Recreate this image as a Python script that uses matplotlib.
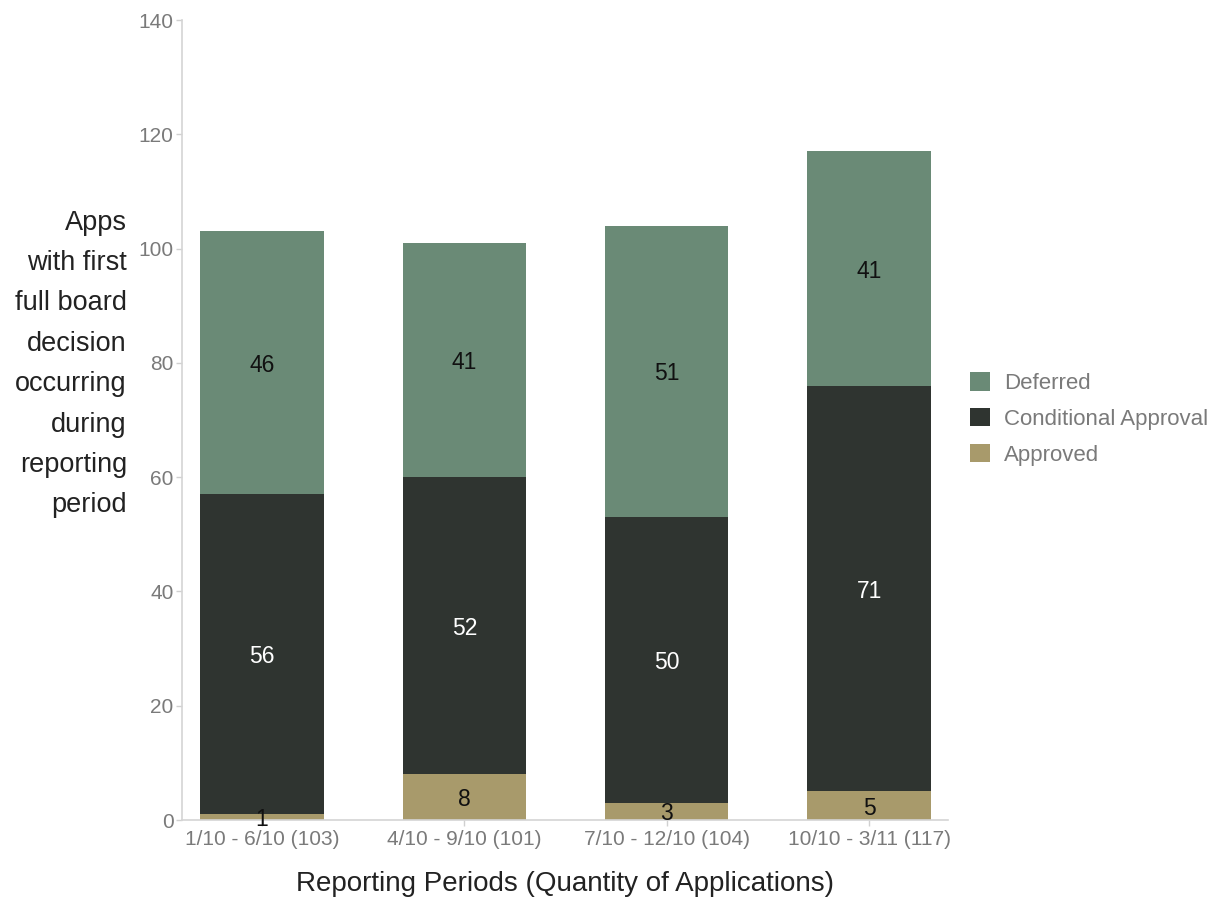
import matplotlib
matplotlib.use("Agg")
import matplotlib.pyplot as plt
import numpy as np

plt.rcParams['font.family'] = ['Liberation Sans', 'DejaVu Sans']

periods = ["1/10 - 6/10 (103)", "4/10 - 9/10 (101)", "7/10 - 12/10 (104)", "10/10 - 3/11 (117)"]
approved = [1, 8, 3, 5]
conditional = [56, 52, 50, 71]
deferred = [46, 41, 51, 41]

c_def = "#6a8a76"
c_cond = "#2f3430"
c_app = "#a89a6b"

fig = plt.figure(figsize=(12.18, 8.99), dpi=100)
ax = fig.add_axes([182/1218, 1-820/899, (948-182)/1218, 800/899])

x = np.arange(len(periods))
w = 0.61
a = np.array(approved); c = np.array(conditional); d = np.array(deferred)
b1 = ax.bar(x, a, w, color=c_app, label="Approved")
b2 = ax.bar(x, c, w, bottom=a, color=c_cond, label="Conditional Approval")
b3 = ax.bar(x, d, w, bottom=a + c, color=c_def, label="Deferred")

fs = 16.5
for i in range(len(x)):
    ax.text(x[i], a[i] / 2, str(a[i]), ha="center", va="center_baseline", fontsize=fs, color="#111111")
    ax.text(x[i], a[i] + c[i] / 2, str(c[i]), ha="center", va="center_baseline", fontsize=fs, color="white")
    ax.text(x[i], a[i] + c[i] + d[i] / 2, str(d[i]), ha="center", va="center_baseline", fontsize=fs, color="#111111")

ax.set_xlim(-0.396, 3.39)
ax.set_ylim(0, 140)
ax.set_yticks(range(0, 141, 20))
ax.set_xticks(x)
ax.set_xticklabels(periods)
for s in ["top", "right"]:
    ax.spines[s].set_visible(False)
for s in ["left", "bottom"]:
    ax.spines[s].set_color("#d4d4d4")
    ax.spines[s].set_linewidth(1.2)
ax.tick_params(axis="both", colors="#d0d0d0", labelcolor="#7a7a7a", labelsize=15, length=4, width=1)
ax.tick_params(axis="x", pad=3)
ax.tick_params(axis="y", pad=2)

ax.set_xlabel("Reporting Periods (Quantity of Applications)", fontsize=20, color="#222222", labelpad=16)
fig.text(127/1218, 1-364/899,
         "Apps\nwith first\nfull board\ndecision\noccurring\nduring\nreporting\nperiod",
         ha="right", va="center", fontsize=19.5, color="#222222", linespacing=1.72)

handles = [b3, b2, b1]
leg = fig.legend(handles, [h.get_label() for h in handles], loc="center left",
                 bbox_to_anchor=(970/1218, 1-419/899), frameon=False, fontsize=16,
                 handlelength=0.9, handleheight=0.9, labelspacing=0.62, handletextpad=0.65,
                 borderpad=0, borderaxespad=0)
for t in leg.get_texts():
    t.set_color("#7a7a7a")

fig.savefig("out.png", dpi=100)
